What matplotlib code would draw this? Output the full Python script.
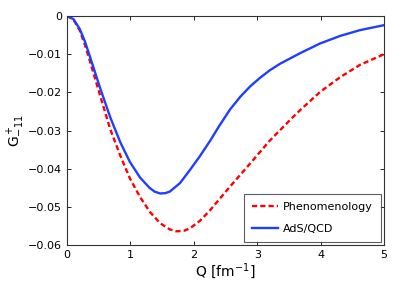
import matplotlib
matplotlib.use("Agg")
import matplotlib.pyplot as plt

# values
q_ph = [0, 0.1, 0.2, 0.28, 0.36, 0.52, 0.68, 0.84, 0.99, 1.15, 1.31, 1.47, 1.62, 1.72, 1.84, 1.94,
        2.1, 2.26, 2.57, 2.89, 3.20, 3.36, 3.52, 3.68, 3.99, 4.31, 4.62, 5.0]
g_ph = [0, -0.0009, -0.0038, -0.0075, -0.0118, -0.0208, -0.0296, -0.0366, -0.0425, -0.0474, -0.0514,
        -0.0543, -0.0559, -0.0564, -0.0563, -0.0556, -0.0536, -0.0508, -0.0447, -0.0386, -0.0326,
        -0.0299, -0.0272, -0.0246, -0.0199, -0.0160, -0.0128, -0.0100]

q_ads = [0, 0.1, 0.2, 0.28, 0.36, 0.52, 0.68, 0.84, 0.99, 1.15, 1.3, 1.38, 1.47, 1.55, 1.62, 1.78,
         1.94, 2.1, 2.26, 2.4, 2.57, 2.73, 2.89, 3.05, 3.20, 3.36, 3.52, 3.68, 3.99, 4.31, 4.62, 5.0]
g_ads = [0, -0.0008, -0.0034, -0.0066, -0.0106, -0.0188, -0.0265, -0.0331, -0.0382, -0.0423, -0.0450,
         -0.0460, -0.0465, -0.0464, -0.0460, -0.0438, -0.0403, -0.0366, -0.0326, -0.0288, -0.0245,
         -0.0212, -0.0184, -0.0161, -0.0142, -0.0125, -0.0111, -0.0097, -0.0072, -0.0052, -0.0037,
         -0.0024]

fig = plt.figure(figsize=(4.09, 2.81), dpi=100)
ax = fig.add_axes([0.164, 0.128, 0.775, 0.815])

ax.plot(q_ph, g_ph, "--", color="#ff0000", lw=1.7, dashes=(2.2, 1.3), label="Phenomenology")
ax.plot(q_ads, g_ads, "-", color="#1f3fff", lw=1.7, label="AdS/QCD")

ax.set_xlim(0, 5)
ax.set_ylim(-0.06, 0)
ax.set_xticks([0, 1, 2, 3, 4, 5])
ax.set_yticks([0, -0.01, -0.02, -0.03, -0.04, -0.05, -0.06])
ax.set_yticklabels(["0", "\u22120.01", "\u22120.02", "\u22120.03", "\u22120.04", "\u22120.05", "\u22120.06"])
ax.tick_params(direction="in", top=True, right=True, labelsize=8, length=3, width=0.6)
for s in ax.spines.values():
    s.set_linewidth(0.8)
    s.set_color("#333333")

ax.set_xlabel("Q [fm$^{-1}$]", fontsize=10, labelpad=1)
ax.set_ylabel("G$^+_{-11}$", fontsize=10, labelpad=1)

leg = ax.legend(loc="lower right", fontsize=8, fancybox=False, edgecolor="#333333",
                handlelength=2.3, handletextpad=0.5, borderpad=0.7, labelspacing=1.1,
                bbox_to_anchor=(1.0, 0.0), borderaxespad=0.3)
leg.get_frame().set_linewidth(0.8)

fig.savefig("out.png", dpi=100)
